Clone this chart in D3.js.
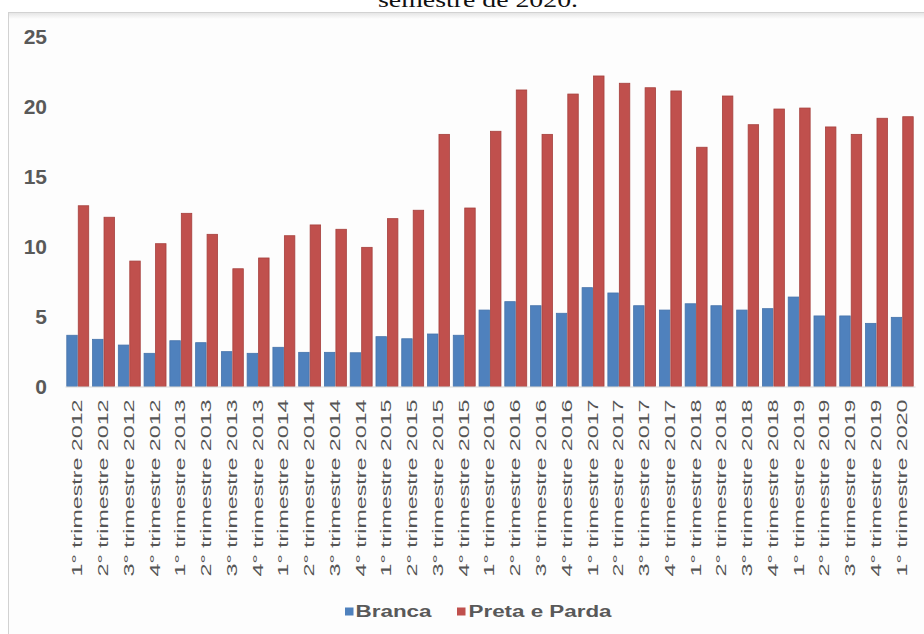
<!DOCTYPE html>
<html>
<head>
<meta charset="utf-8">
<script src="https://cdn.jsdelivr.net/npm/d3@7"></script>
<style>
  body { margin: 0; background: #ffffff; }
  svg { display: block; }
</style>
</head>
<body>
<svg id="chart" width="924" height="634"></svg>
<script>
// Quarterly rates by race/colour group, 2012 Q1 – 2020 Q1
const categories = [
  "1° trimestre 2012", "2° trimestre 2012", "3° trimestre 2012", "4° trimestre 2012",
  "1° trimestre 2013", "2° trimestre 2013", "3° trimestre 2013", "4° trimestre 2013",
  "1° trimestre 2014", "2° trimestre 2014", "3° trimestre 2014", "4° trimestre 2014",
  "1° trimestre 2015", "2° trimestre 2015", "3° trimestre 2015", "4° trimestre 2015",
  "1° trimestre 2016", "2° trimestre 2016", "3° trimestre 2016", "4° trimestre 2016",
  "1° trimestre 2017", "2° trimestre 2017", "3° trimestre 2017", "4° trimestre 2017",
  "1° trimestre 2018", "2° trimestre 2018", "3° trimestre 2018", "4° trimestre 2018",
  "1° trimestre 2019", "2° trimestre 2019", "3° trimestre 2019", "4° trimestre 2019",
  "1° trimestre 2020"
];

const branca = [
  3.66, 3.37, 2.96, 2.37, 3.27, 3.13, 2.49, 2.37,
  2.80, 2.44, 2.44, 2.41, 3.56, 3.41, 3.75, 3.66,
  5.46, 6.06, 5.77, 5.23, 7.06, 6.68, 5.77, 5.46,
  5.91, 5.77, 5.46, 5.56, 6.39, 5.04, 5.04, 4.51,
  4.94
];

const pretaParda = [
  12.91, 12.09, 8.96, 10.20, 12.37, 10.87, 8.41, 9.18,
  10.77, 11.54, 11.23, 9.94, 11.99, 12.59, 18.01, 12.75,
  18.23, 21.18, 18.01, 20.89, 22.18, 21.66, 21.34, 21.11,
  17.09, 20.75, 18.70, 19.82, 19.89, 18.54, 18.01, 19.16,
  19.27
];

const seriesNames = ["Branca", "Preta e Parda"];
const seriesColors = ["#4f81bd", "#c0504d"];
const seriesStrokes = ["#4673aa", "#a6403d"];
const yTicks = [0, 5, 10, 15, 20, 25];

const svg = d3.select("#chart");

// Caption line above the chart frame (only its lower part is in view)
svg.append("text")
  .attr("x", 478).attr("y", 7)
  .attr("text-anchor", "middle")
  .attr("font-family", "'Liberation Serif', 'Times New Roman', serif")
  .attr("font-size", 22)
  .attr("textLength", 200)
  .attr("lengthAdjust", "spacingAndGlyphs")
  .attr("fill", "#111")
  .text("semestre de 2020.");

// Chart frame with a soft top shadow
const defs = svg.append("defs");
const grad = defs.append("linearGradient").attr("id", "topShade")
  .attr("x1", 0).attr("y1", 0).attr("x2", 0).attr("y2", 1);
grad.append("stop").attr("offset", 0).attr("stop-color", "#e6e6e6");
grad.append("stop").attr("offset", 1).attr("stop-color", "#fdfdfd");

svg.append("rect")
  .attr("x", 8.5).attr("y", 12.5)
  .attr("width", 930).attr("height", 640)
  .attr("fill", "#fdfdfd")
  .attr("stroke", "#d2d2d2").attr("stroke-width", 1);
svg.append("rect")
  .attr("x", 9).attr("y", 13)
  .attr("width", 930).attr("height", 6)
  .attr("fill", "url(#topShade)");

// Scales
const x = d3.scaleBand()
  .domain(categories)
  .range([65, 915])
  .paddingInner(0.11)
  .paddingOuter(0.05);

const xSub = d3.scaleBand()
  .domain(seriesNames)
  .range([0, x.bandwidth()]);

const y = d3.scaleLinear()
  .domain([0, 25])
  .range([386.5, 36.5]);

// Y axis (labels only)
const yAxis = svg.append("g")
  .attr("transform", "translate(47,0)")
  .call(d3.axisLeft(y).tickValues(yTicks).tickSize(0).tickPadding(0));
yAxis.select(".domain").remove();
yAxis.selectAll("text")
  .attr("font-family", "'Liberation Sans', Arial, sans-serif")
  .attr("font-weight", "bold")
  .attr("font-size", 21)
  .attr("fill", "#595959");

// Bars
const rows = categories.map((c, i) => ({ cat: c, values: [branca[i], pretaParda[i]] }));

const groups = svg.append("g").selectAll("g")
  .data(rows)
  .join("g")
  .attr("transform", d => `translate(${x(d.cat)},0)`);

groups.selectAll("rect")
  .data(d => d.values.map((v, k) => ({ key: seriesNames[k], k, v })))
  .join("rect")
  .attr("x", d => xSub(d.key) + 0.5)
  .attr("y", d => y(d.v))
  .attr("width", xSub.bandwidth() - 1)
  .attr("height", d => y(0) - y(d.v))
  .attr("fill", d => seriesColors[d.k])
  .attr("stroke", d => seriesStrokes[d.k])
  .attr("stroke-width", 0.8);

// X axis with rotated category labels
const xAxis = svg.append("g")
  .attr("transform", `translate(0,${y(0)})`)
  .call(d3.axisBottom(x).tickSize(0).tickSizeOuter(0));
xAxis.select(".domain").attr("stroke", "#d9d9d9");
xAxis.selectAll("text")
  .attr("transform", "rotate(-90)")
  .attr("x", -13)
  .attr("y", 0)
  .attr("dy", "0.32em")
  .attr("text-anchor", "end")
  .attr("font-family", "'Liberation Sans', Arial, sans-serif")
  .attr("font-size", 14)
  .attr("fill", "#555555")
  .attr("textLength", 177)
  .attr("lengthAdjust", "spacingAndGlyphs");

// Legend
const legendItems = [
  { name: seriesNames[0], color: seriesColors[0], sx: 345, tx: 355.5, len: 76 },
  { name: seriesNames[1], color: seriesColors[1], sx: 457, tx: 468.5, len: 143 }
];
const legend = svg.append("g");
legend.selectAll("rect")
  .data(legendItems)
  .join("rect")
  .attr("x", d => d.sx).attr("y", 607.5)
  .attr("width", 8.5).attr("height", 8)
  .attr("fill", d => d.color);
legend.selectAll("text")
  .data(legendItems)
  .join("text")
  .attr("x", d => d.tx).attr("y", 617)
  .attr("font-family", "'Liberation Sans', Arial, sans-serif")
  .attr("font-weight", "bold")
  .attr("font-size", 16)
  .attr("fill", "#595959")
  .attr("textLength", d => d.len)
  .attr("lengthAdjust", "spacingAndGlyphs")
  .text(d => d.name);
</script>
</body>
</html>
